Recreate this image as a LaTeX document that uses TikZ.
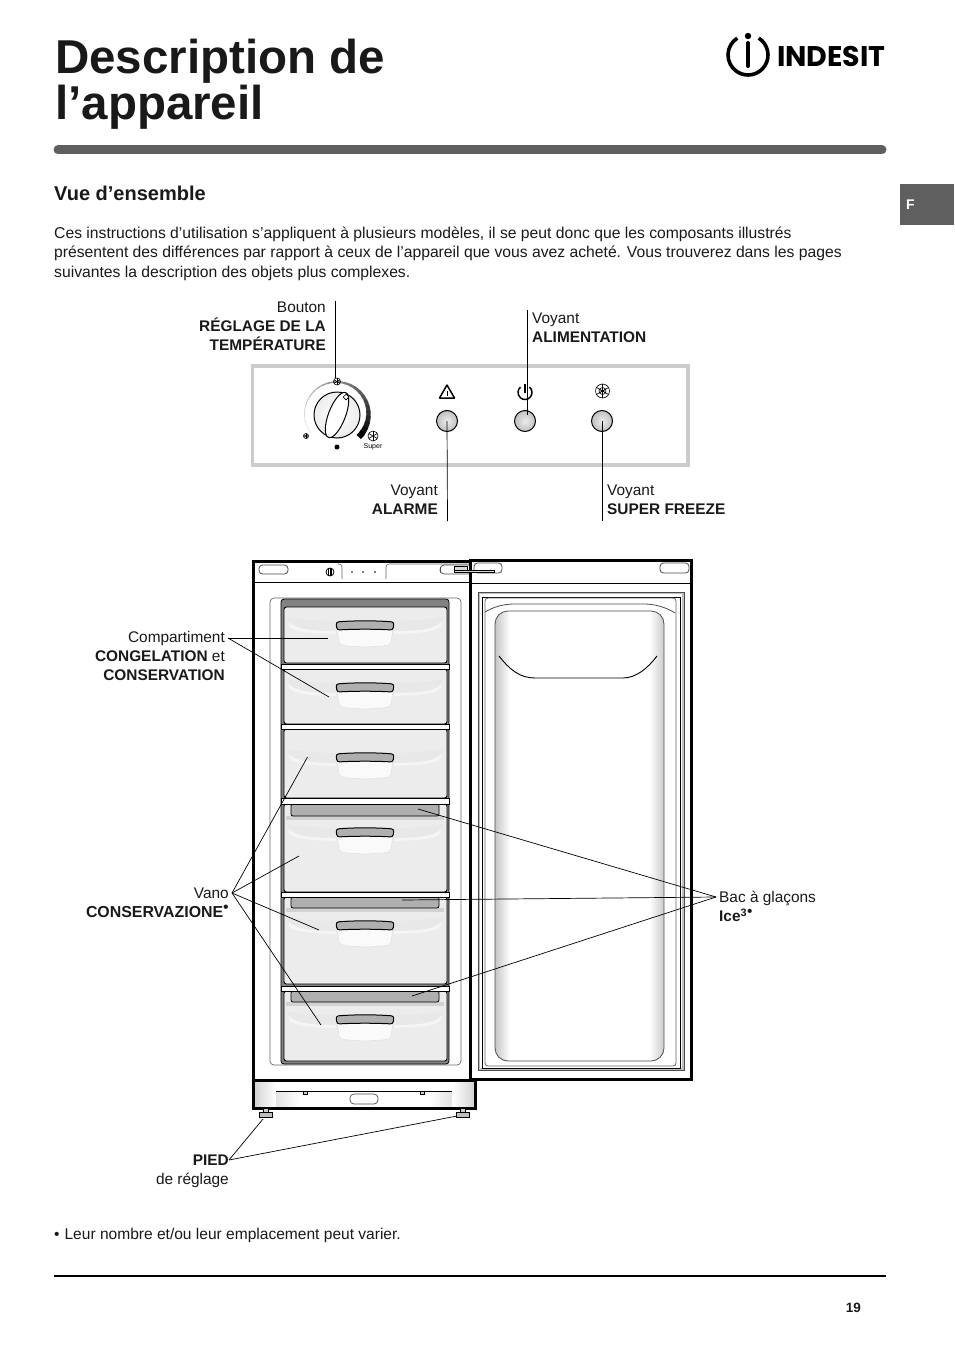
\documentclass[tikz,border=0pt]{standalone}
\usepackage{fontspec}
\setmainfont{Liberation Sans}
\newfontfamily\logofont{Poppins}
\usetikzlibrary{calc}
\definecolor{ink}{RGB}{25,25,25}
\definecolor{slate}{RGB}{95,95,95}
\definecolor{panelgray}{RGB}{204,204,204}
\definecolor{binfill}{RGB}{236,236,236}
\definecolor{frameg}{RGB}{130,130,130}
\definecolor{trayg}{RGB}{175,175,175}
\newcommand{\supdot}{\raisebox{5pt}{\textbullet}}
\tikzset{
  leader/.style={draw=black,line width=0.7pt},
  lbl/.style={text=ink,inner sep=0pt,font=\fontsize{15.4}{19}\selectfont},
  rlbl/.style={lbl,align=right,anchor=north east},
  llbl/.style={lbl,align=left,anchor=north west},
  wall/.style={draw=black,line width=#1},
  wall/.default=1pt,
  lamp/.style={circle,draw=black,line width=1pt,inner color=white!85!gray,outer color=gray!50,minimum size=21pt,inner sep=0pt},
  pill/.style={draw=black!70,line width=0.8pt,rounded corners=3.5pt,fill=white},
  % pictograms
  pics/handle/.style={code={
    \fill[white!96!gray,draw=gray!25,line width=0.5pt] (-28,3) -- (-26,16) .. controls (-25,20) and (-20,20) .. (0,21)
      .. controls (20,20) and (25,20) .. (26,16) -- (28,3) -- cycle;
    \draw[fill=trayg,line width=1pt,rounded corners=2.5pt] (-29,-4) .. controls (-10,-5.5) and (10,-5.5) .. (29,-4) -- (28,4)
      .. controls (10,3) and (-10,3) .. (-28,4) -- cycle;
  }},
  pics/lip/.style={code={
    \fill[gray!18] (-78,-9) .. controls (-76,3) and (-60,4) .. (-29,6) -- (29,6) .. controls (60,4) and (76,3) .. (78,-9)
      .. controls (60,-3) and (-60,-3) .. (-78,-9);
    \fill[white!92!gray] (-76,0) .. controls (-70,7) and (-50,7) .. (-29,8) -- (-29,5) .. controls (-55,5) and (-70,3) .. (-76,-4) -- cycle;
    \fill[white!92!gray] (76,0) .. controls (70,7) and (50,7) .. (29,8) -- (29,5) .. controls (55,5) and (70,3) .. (76,-4) -- cycle;
  }},
  pics/snow/.style={code={
    \draw[line width=0.6pt] (0,0) circle (#1);
    \foreach \a in {0,60,120} \draw[line width=0.6pt] (\a+30:#1) -- (\a+210:#1);
  }},
}
\begin{document}
\begin{tikzpicture}[x=1pt,y=-1pt]
  \useasboundingbox (0,0) rectangle (954,1351);
  % heading
  \node[anchor=north west,inner sep=0pt,align=left,font=\fontsize{47.5}{46}\selectfont\bfseries,text=ink] (title) at (55,39) {Description de\\l’appareil};
  \draw[line width=4pt,line cap=round] (748,43) -- (748,66);
  \fill (748,36) circle (3.2);
  \draw[line width=3.6pt] ($(748,55)+(-57.5:20)$) arc (-57.5:237.5:20);
  \node[anchor=west,inner sep=0pt,font=\logofont\fontsize{28.4}{28}\selectfont\bfseries] (logo) at (777,56) {INDESIT};
  \draw[slate,line width=9pt,line cap=round] (58,150) -- (882,150);
  \fill[slate] (900,184) rectangle (954,225);
  \node[anchor=west,inner sep=0pt,text=white,font=\fontsize{14}{14}\selectfont\bfseries] (tab) at (906,205) {F};
  \node[anchor=west,inner sep=0pt,text=ink,font=\fontsize{20}{20}\selectfont\bfseries] (sub) at (54,193) {Vue d’ensemble};
  \node[llbl,font=\fontsize{15.7}{19.6}\selectfont] (intro) at (54,226.5) {Ces instructions d’utilisation s’appliquent à plusieurs modèles, il se peut donc que les composants illustrés\\présentent des différences par rapport à ceux de l’appareil que vous avez acheté. Vous trouverez dans les pages\\suivantes la description des objets plus complexes.};

  % control panel
  \draw[panelgray,line width=3.5pt] (252.5,366) rectangle (688,465);
  \foreach \a in {150,160,...,400}{
    \pgfmathtruncatemacro{\c}{10+90*((\a-150)/250)^1.3}
    \pgfmathsetmacro{\w}{0.6+5.4*((\a-150)/250)^2}
    \draw[black!\c!white,line width=\w pt] ($(336.5,414)+(\a-6:32)$) arc (\a-6:\a+6:32);
  }
  \draw[line width=1pt,inner color=white,outer color=gray!15] (337,415) circle (23);
  \draw[line width=1pt,fill=white,rotate around={69:(337,415)}] (337,415) ellipse (24 and 8.5);
  \draw[line width=0.6pt,fill=white,rotate around={45:(346,397)}] (344,395) rectangle (348,399);
  \fill (337,447) circle (2.5);
  \pic at (337,381.5) {snow=3.5};
  \pic at (306,436) {snow=2.5};
  \pic at (373,436) {snow=5};
  \node[inner sep=0pt,font=\fontsize{7}{7}\selectfont] (super) at (373,446.5) {Super};
  \node[lamp] (lampA) at (447,421) {};
  \node[lamp] (lampB) at (525,421) {};
  \node[lamp] (lampC) at (602,421) {};
  \draw[line width=1.5pt,line join=round] (439.5,398) -- (447,385) -- (454.5,398) -- cycle;
  \fill (446.6,391) rectangle (447.4,395.5);
  \draw[line width=1.5pt] ($(525,392.5)+(-50:7)$) arc (-50:230:7);
  \draw[line width=1.5pt] (525,384) -- (525,393);
  \pic at (602.5,391) {snow=7};
  \pic at (602.5,391) {snow=3.5};

  % freezer cabinet
  \draw[wall=3pt] (253,561) rectangle (470,1080);
  \draw[wall=1pt] (253,582) -- (470,582);
  \draw[pill] (259,565) rectangle (288,574);
  \draw[line width=0.8pt,fill=white] (330,572) circle (4);
  \draw[line width=0.8pt] (330,568) -- (330,576) (328.5,568.5) -- (328.5,575.5) (331.5,568.5) -- (331.5,575.5);
  \draw[black!60,line width=0.6pt,rounded corners=3pt] (338,564) -- (342,564) -- (342,579);
  \foreach \x in {352,363,375} \fill (\x,572) circle (0.9);
  \draw[black!60,line width=0.6pt,rounded corners=3pt] (386,579) -- (386,564) -- (470,564);
  \draw[black!70,line width=0.7pt,rounded corners=3pt] (470,565) -- (441,565) -- (440,570) -- (441,574) -- (470,574);
  \draw[black!60,line width=0.7pt,rounded corners=4pt] (270,1065) rectangle (461,598);
  \fill[frameg,rounded corners=3pt,draw=black,line width=0.8pt] (281,599) rectangle (449,1064);
  \foreach \t/\b/\h in {607/663/626,669/724/688,729/798/758,804/892/833,897/984/926,991/1061/1020}{
    \draw[fill=binfill,line width=0.9pt,rounded corners=2.5pt] (284,\t) rectangle (447,\b);
    \pic at (365,\h) {lip};
    \pic at (365,\h) {handle};
  }
  \foreach \t/\b in {804/816,897/908,991/1002}{
    \fill[gray!35] (286,\b) rectangle (444,\b+4);
    \draw[fill=trayg,line width=0.8pt,rounded corners=2pt] (291,\t) rectangle (439,\b);
  }
  \foreach \t/\b in {664/669,724/729,798/804,892/897,986/991}{
    \draw[fill=white,line width=0.8pt] (281,\t) rectangle (449,\b);
  }
  % plinth and feet
  \fill[white] (253,1080) rectangle (475,1108);
  \shade[left color=gray!35,right color=white] (254,1081) rectangle (276,1107);
  \shade[left color=white,right color=gray!35] (452,1081) rectangle (474,1107);
  \shade[left color=gray!22,right color=white] (276,1091) rectangle (300,1107);
  \shade[left color=white,right color=gray!22] (428,1091) rectangle (452,1107);
  \draw[wall=3pt] (253,1080) rectangle (475,1108);
  \draw[line width=0.8pt] (276,1091) -- (452,1091);
  \foreach \x in {305,422} \draw[fill=gray!40,line width=0.5pt] (\x-2,1091) rectangle (\x+2,1094);
  \draw[black!70,fill=white,line width=0.7pt,rounded corners=4pt] (350,1094) rectangle (378,1104);
  \foreach \x in {265.5,463}{
    \draw[fill=gray!40,line width=0.6pt] (\x-2.5,1108) rectangle (\x+2.5,1112);
    \draw[fill=gray!50,line width=0.8pt] (\x-6.5,1112) rectangle (\x+6.5,1117);
  }

  % door
  \draw[wall=3pt] (470.5,560) rectangle (691.5,1079);
  \draw[wall=1pt] (470,583) -- (691,583);
  \draw[pill] (474,563) rectangle (502,573);
  \draw[pill] (660,563) rectangle (689,573);
  \draw[draw=gray!50,line width=2pt] (479,593) rectangle (683,1069);
  \draw[black!70,line width=0.8pt] (478,592) rectangle (684,1070);
  \draw[line width=0.8pt] (482,597) rectangle (680,1068);
  \draw[black!60,line width=0.8pt,rounded corners=3pt] (485,598) rectangle (676,1066);
  \begin{scope}
    \clip[rounded corners=13pt] (495,611) rectangle (664,1061);
    \shade[left color=gray!45,right color=white] (495,611) rectangle (510,1061);
    \shade[left color=white,right color=gray!40] (649,611) rectangle (664,1061);
  \end{scope}
  \draw[black!70,line width=0.8pt,rounded corners=13pt] (495,611) rectangle (664,1061);
  \draw[black!70,line width=0.8pt] (485,612) .. controls (495,606) and (505,604) .. (515,604) -- (645,604) .. controls (655,604) and (668,608) .. (675,613);
  \draw[line width=0.9pt] (499,656) .. controls (510,670) and (520,678) .. (535,678) -- (623,678) .. controls (636,678) and (648,668) .. (657,656);
  \draw[fill=gray!30,line width=0.7pt] (454,566) rectangle (467,570);
  \draw[fill=gray!30,line width=0.7pt] (454,570) rectangle (494,572);

  % callouts
  \node[rlbl] (knobLbl) at (326,302) {Bouton\\\textbf{RÉGLAGE DE LA}\\\textbf{TEMPÉRATURE}};
  \node[llbl] (powerLbl) at (532,313) {Voyant\\\textbf{ALIMENTATION}};
  \node[rlbl] (alarmLbl) at (438,485) {Voyant\\\textbf{ALARME}};
  \node[llbl] (superLbl) at (607,485) {Voyant\\\textbf{SUPER FREEZE}};
  \node[rlbl] (compLbl) at (225,631) {Compartiment\\\textbf{CONGELATION} et\\\textbf{CONSERVATION}};
  \node[rlbl] (vanoLbl) at (229,888) {Vano\\\fontsize{15.9}{19}\selectfont\textbf{CONSERVAZIONE}\supdot};
  \node[llbl] (iceLbl) at (719,891) {Bac à glaçons\\\textbf{Ice\textsuperscript{3}}\supdot};
  \node[rlbl] (footLbl) at (229,1155) {\textbf{PIED}\\de réglage};
  \coordinate (knobEnd) at (335,301); \coordinate (knobTip) at (335,378);
  \coordinate (powerEnd) at (527.5,310); \coordinate (powerTip) at (527.5,415);
  \coordinate (alarmEnd) at (447.5,521); \coordinate (superEnd) at (602,521);
  \draw[leader] (knobEnd) -- (knobTip);
  \draw[leader] (powerEnd) -- (powerTip);
  \draw[leader] (alarmEnd) -- (lampA.center);
  \draw[leader] (superEnd) -- (lampC.center);
  \coordinate (compHub) at (228,638);
  \foreach \x/\y in {328/638,329/697} \draw[leader] (compHub) -- (\x,\y);
  \coordinate (vanoHub) at (232,893);
  \foreach \x/\y in {307.5/757,299/856,319/930,321/1025} \draw[leader] (vanoHub) -- (\x,\y);
  \coordinate (iceHub) at (716,897);
  \foreach \x/\y in {418/809,402/900,412/996} \draw[leader] (iceHub) -- (\x,\y);
  \coordinate (footHub) at (229,1160);
  \foreach \x/\y in {263/1119,457/1116} \draw[leader] (footHub) -- (\x,\y);

  % foot of page
  \node[llbl] (note) at (54,1228) {\textbullet\hspace{5pt}{\fontsize{15.55}{19}\selectfont Leur nombre et/ou leur emplacement peut varier.}};
  \draw[line width=1.5pt] (54,1276) -- (886,1276);
  \node[anchor=east,inner sep=0pt,text=ink,font=\fontsize{13.5}{14}\selectfont\bfseries] (page) at (861,1308) {19};
\end{tikzpicture}
\end{document}
